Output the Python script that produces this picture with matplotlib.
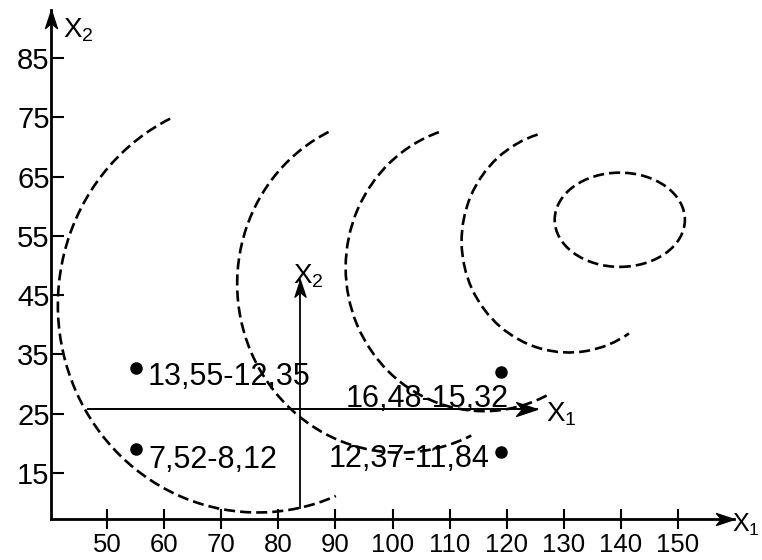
import matplotlib
matplotlib.use("Agg")
import matplotlib.pyplot as plt
from matplotlib.patches import Arc, Ellipse
from matplotlib.path import Path

# dashed contour arcs, circles in data units
arc_cx = [76.4, 101.3, 116.0, 130.9]
arc_cy = [43.3, 46.9, 49.6, 54.1]
arc_r = [35.0, 28.5, 24.2, 18.8]
arc_from = [116, 116, 109, 107]
arc_to = [293, 296, 298, 304]

# innermost closed contour
opt_x, opt_y = 139.8, 57.7
opt_w, opt_h = 22.8, 15.9

# design points and their labels
pt_x = [55, 55, 119, 119]
pt_y = [32.7, 19.0, 32.0, 18.5]
pt_text = ["13,55-12,35", "7,52-8,12", "16,48-15,32", "12,37-11,84"]

# centre of the plan and the coded axes through it
x0, y0 = 83.8, 25.8
x1_from, x1_to = 46.7, 125.3
x2_from, x2_to = 9.1, 47.5

xticks = [50, 60, 70, 80, 90, 100, 110, 120, 130, 140, 150]
yticks = [15, 25, 35, 45, 55, 65, 75, 85]

plt.rcParams["font.family"] = "Liberation Sans"
plt.rcParams["mathtext.fontset"] = "custom"
plt.rcParams["mathtext.rm"] = "Liberation Sans"
plt.rcParams["mathtext.it"] = "Liberation Sans:italic"

up = Path([(0, 0), (-0.33, -1), (0, -0.72), (0.33, -1), (0, 0)],
          [Path.MOVETO, Path.LINETO, Path.LINETO, Path.LINETO, Path.CLOSEPOLY])
right = Path([(0, 0), (-1, 0.33), (-0.72, 0), (-1, -0.33), (0, 0)],
             [Path.MOVETO, Path.LINETO, Path.LINETO, Path.LINETO, Path.CLOSEPOLY])

fig = plt.figure(figsize=(7.62, 5.6), dpi=100)
ax = fig.add_axes([51 / 762, 41 / 560, 683 / 762, 509 / 560])
ax.set_xlim(40.2, 159.8)
ax.set_ylim(7.2, 93.1)

for s in ["top", "right"]:
    ax.spines[s].set_visible(False)
for s in ["left", "bottom"]:
    ax.spines[s].set_linewidth(2.0)

# arrow heads of the main axes
ax.plot(0, 1, marker=up, ms=26, color="black", transform=ax.transAxes, clip_on=False)
ax.plot(1, 0, marker=right, ms=26, color="black", transform=ax.transAxes, clip_on=False)
ax.annotate(r"$\mathrm{X}_2$", xy=(0, 1), xycoords="axes fraction",
            xytext=(8.6, -20), textcoords="offset points", fontsize=20,
            ha="left", va="baseline")
ax.annotate(r"$\mathrm{X}_1$", xy=(1, 0), xycoords="axes fraction",
            xytext=(-1.5, -9.5), textcoords="offset points", fontsize=18,
            ha="left", va="baseline")

ax.set_xticks(xticks)
ax.set_yticks(yticks)
ax.set_xticklabels([str(t) for t in xticks])
ax.set_yticklabels([str(t) for t in yticks])
ax.tick_params(axis="y", direction="in", length=9, width=1.5, pad=1, labelsize=21)
ax.tick_params(axis="x", direction="inout", length=14, width=1.5, pad=3, labelsize=18.5)

# contour lines
dash = (0, (4.2, 1.9))
for cx, cy, r, t1, t2 in zip(arc_cx, arc_cy, arc_r, arc_from, arc_to):
    ax.add_patch(Arc((cx, cy), 2 * r, 2 * r, theta1=t1, theta2=t2,
                     color="black", lw=1.9, linestyle=dash))
ax.add_patch(Ellipse((opt_x, opt_y), opt_w, opt_h, fill=False,
                     edgecolor="black", lw=1.9, linestyle=dash))

# coded axes through the centre
ax.plot([x1_from, x1_to], [y0, y0], color="black", lw=1.4)
ax.plot([x0, x0], [x2_from, x2_to], color="black", lw=1.3)
ax.plot(x1_to, y0, marker=right, ms=30, color="black", clip_on=False)
ax.plot(x0, x2_to, marker=up, ms=24, color="black", clip_on=False)
ax.annotate(r"$\mathrm{X}_1$", xy=(x1_to, y0), xytext=(6.5, -9.4),
            textcoords="offset points", fontsize=20, ha="left", va="baseline")
ax.annotate(r"$\mathrm{X}_2$", xy=(x0, x2_to), xytext=(-5, -2.2),
            textcoords="offset points", fontsize=20, ha="left", va="baseline")

# design points
ax.plot(pt_x, pt_y, "o", color="black", ms=8, ls="none")
offsets = [(8.6, -12.2), (9.4, -13.7), (5.8, -25.2), (-8.6, -10.8)]
aligns = ["left", "left", "right", "right"]
for x, y, t, off, ha in zip(pt_x, pt_y, pt_text, offsets, aligns):
    ax.annotate(t, xy=(x, y), xytext=off, textcoords="offset points",
                fontsize=22, ha=ha, va="baseline")

fig.savefig("out.png", dpi=100)
